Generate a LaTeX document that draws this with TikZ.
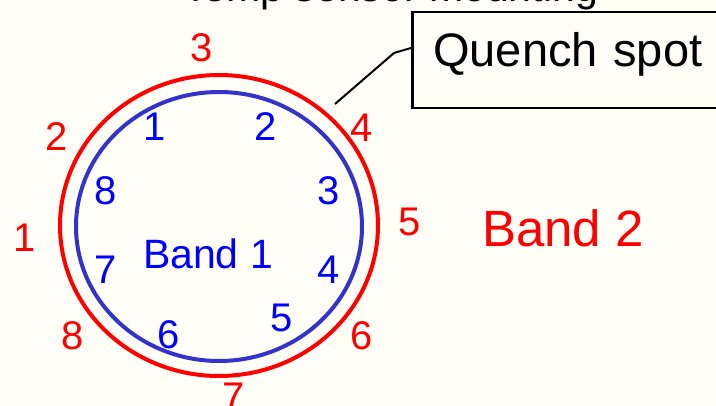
\documentclass[tikz,border=0pt]{standalone}
\usepackage{fontspec}
\setmainfont{Liberation Sans}
\definecolor{bgc}{RGB}{255,255,247}
\definecolor{ringblue}{RGB}{51,51,204}
\definecolor{txtblue}{RGB}{0,0,255}
\definecolor{txtred}{RGB}{255,0,0}
\tikzset{
  rednum/.style={text=txtred, inner sep=0pt, font=\fontsize{40}{48}\selectfont},
  bluenum/.style={text=txtblue, inner sep=0pt, font=\fontsize{40}{48}\selectfont},
  ring/.style={line width=4pt},
}
\begin{document}
\begin{tikzpicture}[x=1pt,y=-1pt]
\fill[bgc] (0,0) rectangle (716,406);
\useasboundingbox (0,0) rectangle (716,406);
% title (cut off)
\node[anchor=base west, inner sep=0pt, font=\fontsize{41}{49}\selectfont] (title) at (183,2) {Temp sensor mounting};
% rings
\draw[ring, txtred] (219,225.5) ellipse [x radius=159pt, y radius=150.5pt];
\draw[ring, ringblue] (219,226.5) ellipse [x radius=143pt, y radius=134.5pt];
% quench spot box
\node[draw, line width=2.5pt, anchor=north west, inner xsep=21pt, inner ysep=0pt,
      text height=54pt, text depth=42pt, text width=300pt, align=left,
      font=\fontsize{47}{56}\selectfont] (qbox) at (411,11) {Quench spot};
\coordinate (tip) at (335,104);
\coordinate (bend) at (394,53);
\draw[line width=2pt] (tip) -- (bend) -- (qbox.north west |- 0,48);
% band 2 numbers
\node[rednum] (r1) at (25,238) {1};
\node[rednum] (r2) at (57,137) {2};
\node[rednum] (r3) at (202,48) {3};
\node[rednum] (r4) at (362,128) {4};
\node[rednum] (r5) at (410,222) {5};
\node[rednum] (r6) at (362,336) {6};
\node[rednum] (r7) at (234,397) {7};
\node[rednum] (r8) at (73,336) {8};
% band 1 numbers
\node[bluenum] (b1) at (155,127) {1};
\node[bluenum] (b2) at (266,127) {2};
\node[bluenum] (b3) at (329,191) {3};
\node[bluenum] (b4) at (329,270) {4};
\node[bluenum] (b5) at (282,318) {5};
\node[bluenum] (b6) at (169,335) {6};
\node[bluenum] (b7) at (106,270) {7};
\node[bluenum] (b8) at (106,191) {8};
% labels
\node[bluenum, font=\fontsize{41}{49}\selectfont] (band1) at (208,254) {Band 1};
\node[rednum, font=\fontsize{51}{61}\selectfont] (band2) at (563,228) {Band 2};
\end{tikzpicture}
\end{document}
